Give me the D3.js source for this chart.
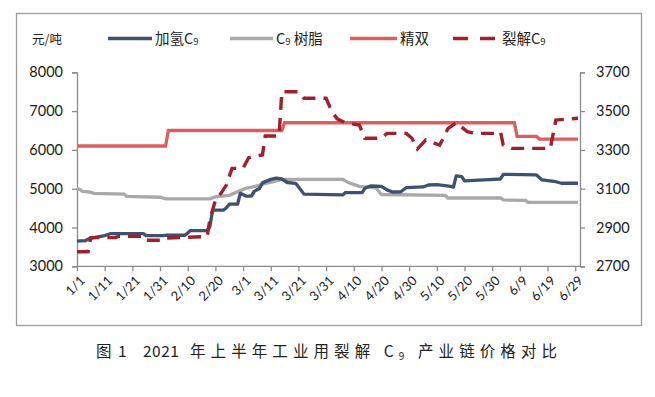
<!DOCTYPE html>
<html><head><meta charset="utf-8">
<script src="https://cdn.jsdelivr.net/npm/d3@7/dist/d3.min.js"></script>
<style>
body{margin:0;background:#fff;}
svg{display:block;}
</style></head>
<body><svg id="c" width="655" height="397"></svg>
<script>
// ---- data ----
const nDays = 182; // daily categories 1/1 .. 6/30
const tickLabels = ["1/1","1/11","1/21","1/31","2/10","2/20","3/1","3/11","3/21","3/31","4/10","4/20","4/30","5/10","5/20","5/30","6/9","6/19","6/29"];
const leftTicks = [3000,4000,5000,6000,7000,8000];
const rightTicks = [2700,2900,3100,3300,3500,3700];
// [day index, price]
const hydroC9 = [[0,3650],[3,3660],[4,3700],[6,3740],[10,3790],[12,3840],[24,3840],[25,3790],[31,3790],[32,3800],[39,3800],[40,3860],[41,3920],[47,3920],[48,4020],[49,4450],[53,4450],[54,4510],[55,4600],[58,4600],[59,4880],[61,4810],[63,4810],[64,4930],[66,5010],[67,5150],[70,5240],[72,5270],[74,5250],[76,5160],[79,5140],[80,5050],[82,4860],[96,4840],[97,4900],[103,4900],[104,5010],[106,5070],[110,5060],[112,4970],[114,4915],[117,4920],[119,5030],[125,5045],[127,5095],[130,5105],[135,5060],[136,5040],[137,5330],[139,5310],[140,5200],[147,5225],[153,5250],[154,5370],[166,5355],[168,5225],[173,5180],[175,5140],[181,5140]];
const resinC9 = [[0,5000],[1,4980],[2,4930],[5,4910],[6,4880],[17,4860],[18,4800],[30,4780],[32,4740],[48,4740],[50,4790],[55,4830],[59,4950],[61,5010],[65,5070],[67,5120],[71,5180],[74,5240],[96,5240],[98,5160],[102,5060],[108,5020],[110,4850],[133,4830],[134,4760],[153,4760],[154,4710],[162,4700],[163,4650],[181,4650]];
const dcpd = [[0,6100],[32,6100],[33,6500],[74,6500],[75,6700],[158,6700],[159,6350],[166,6350],[167,6280],[181,6280]];
const crackC9 = [[0,2775],[4,2775],[5,2848],[14,2848],[15,2855],[24,2855],[25,2834],[31,2834],[32,2845],[40,2850],[47,2853],[48,2940],[50,3040],[52,3076],[54,3120],[56,3205],[60,3205],[62,3260],[67,3274],[68,3372],[73,3372],[74,3600],[80,3600],[82,3566],[90,3566],[92,3500],[94,3460],[97,3440],[102,3428],[104,3360],[110,3360],[112,3385],[119,3385],[121,3360],[123,3305],[126,3351],[131,3325],[132,3351],[134,3410],[137,3440],[141,3394],[144,3385],[151,3385],[153,3394],[154,3325],[157,3308],[171,3308],[173,3454],[181,3463]];

// ---- layout ----
const svg = d3.select("#c");
const L = 77, R = 580, T = 72.3, B = 266.3;
const x = d3.scaleLinear().domain([0, 181]).range([L, 578]);
const yL = d3.scaleLinear().domain([3000, 8000]).range([B, T]);
const yR = d3.scaleLinear().domain([2700, 3700]).range([B, T]);
const axisCol = "#8c8c8c";
const numFont = "Lato, 'Open Sans', sans-serif";
const cjk = "'Noto Sans CJK SC', sans-serif";

// frame
svg.append("rect").attr("x",16.5).attr("y",13.5).attr("width",625).attr("height",312)
  .attr("fill","none").attr("stroke","#9a9a9a").attr("stroke-width",1.3);

// left axis
const gl = svg.append("g").attr("transform",`translate(${L},0)`)
  .call(d3.axisLeft(yL).tickValues(leftTicks).tickSize(5).tickPadding(9).tickFormat(d3.format("d")));
// right axis
const gr = svg.append("g").attr("transform",`translate(${R},0)`)
  .call(d3.axisRight(yR).tickValues(rightTicks).tickSize(5).tickPadding(11).tickFormat(d3.format("d")));
// bottom axis
const tickIdx = tickLabels.map((d,i)=>i*10);
const gb = svg.append("g").attr("transform",`translate(0,${B})`)
  .call(d3.axisBottom(x).tickValues(tickIdx).tickSize(5).tickFormat((d,i)=>tickLabels[i]));
gb.select(".domain").attr("d",`M${L},0H${R}`);
[gl,gr,gb].forEach(g=>{
  g.select(".domain").attr("stroke",axisCol).attr("stroke-width",1.3);
  g.selectAll(".tick line").attr("stroke",axisCol).attr("stroke-width",1.3);
  g.selectAll("text").attr("fill","#1a1a1a").style("font-family",numFont);
});
gl.selectAll("text").style("font-size","14.5px");
gr.selectAll("text").style("font-size","14.5px");
gb.selectAll("text").style("font-size","13px")
  .attr("text-anchor","end").attr("dy","0.35em")
  .attr("transform","translate(5,12) rotate(-45)").attr("y",0).attr("x",0);

// lines
const lineL = d3.line().x(d=>x(d[0])).y(d=>yL(d[1]));
const lineR = d3.line().x(d=>x(d[0])).y(d=>yR(d[1]));
const cBlue = "#3e5170", cGray = "#a9a9a9", cRed = "#dc5f5f", cDark = "#a31e2e";
svg.append("path").datum(dcpd).attr("d",lineL).attr("fill","none").attr("stroke",cRed).attr("stroke-width",3.3);
svg.append("path").datum(resinC9).attr("d",lineL).attr("fill","none").attr("stroke",cGray).attr("stroke-width",3.3);
svg.append("path").datum(hydroC9).attr("d",lineL).attr("fill","none").attr("stroke",cBlue).attr("stroke-width",3.3).attr("stroke-linejoin","round");
svg.append("path").datum(crackC9).attr("d",lineR).attr("fill","none").attr("stroke",cDark).attr("stroke-width",3.4).attr("stroke-dasharray","13,8");

// unit label
svg.append("text").attr("x",32).attr("y",44).text("元/吨")
  .style("font-family",cjk).style("font-size","12.5px").attr("fill","#222");

// legend
const legend = [
  {x0:108,x1:152,col:cBlue,dash:null,label:"加氢C",sub:"9",pre:null},
  {x0:230,x1:273,col:cGray,dash:null,label:" 树脂",sub:"9",pre:"C"},
  {x0:350,x1:397,col:cRed,dash:null,label:"精双",sub:null,pre:null},
  {x0:453,x1:499,col:cDark,dash:"15,12",label:"裂解C",sub:"9",pre:null}
];
legend.forEach(d=>{
  svg.append("line").attr("x1",d.x0).attr("x2",d.x1).attr("y1",38.5).attr("y2",38.5)
    .attr("stroke",d.col).attr("stroke-width",3.4).attr("stroke-dasharray",d.dash);
  const t = svg.append("text").attr("x",d.x1+3).attr("y",44)
    .style("font-family",cjk).style("font-size","14.5px").attr("fill","#222");
  if(d.pre){ t.append("tspan").text(d.pre); t.append("tspan").text(d.sub).style("font-size","9.5px").attr("dy","1"); t.append("tspan").text(d.label).attr("dy","-1"); }
  else { t.append("tspan").text(d.label); if(d.sub) t.append("tspan").text(d.sub).style("font-size","9.5px").attr("dy","1"); }
});

// caption
const capStyle = t => t.style("font-family",cjk).style("font-size","15.5px").attr("fill","#222");
capStyle(svg.append("text").attr("x",96).attr("y",357).text("图"));
capStyle(svg.append("text").attr("x",118).attr("y",357).text("1"));
capStyle(svg.append("text").attr("x",143).attr("y",357).text("2021").style("letter-spacing","0.5px"));
const cap = capStyle(svg.append("text").attr("x",190).attr("y",357)
  .attr("textLength",367).attr("lengthAdjust","spacing"));
cap.append("tspan").text("年上半年工业用裂解 C");
cap.append("tspan").text("9").style("font-size","10px").attr("dy","3");
cap.append("tspan").text(" 产业链价格对比").attr("dy","-3");
</script></body></html>
